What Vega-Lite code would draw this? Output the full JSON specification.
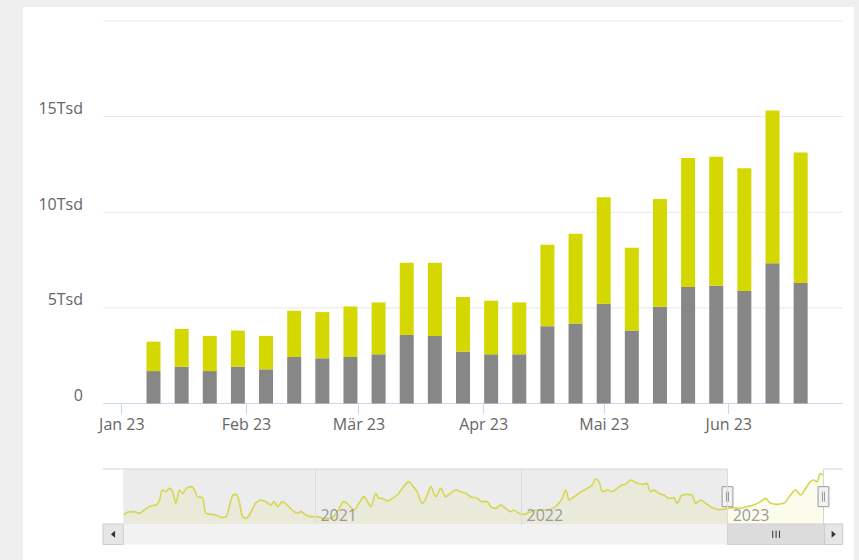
{
  "$schema": "https://vega.github.io/schema/vega-lite/v6.json",
  "width": 831,
  "height": 553,
  "autosize": {"type": "none"},
  "padding": {"left": 23, "top": 7, "right": 5, "bottom": 0},
  "background": "#efefef",
  "config": {
    "view": {"stroke": null, "fill": "#ffffff"},
    "font": "Open Sans",
    "axis": {"labelFont": "Open Sans", "labelFontSize": 16, "labelColor": "#666666", "grid": false}
  },
  "datasets": {
    "eins": [{}],
    "bars": [
      {"woche": "2023-01-09T00:00:00", "reihe": "Serie 1", "wert": 1696}, {"woche": "2023-01-09T00:00:00", "reihe": "Serie 2", "wert": 1539},
      {"woche": "2023-01-16T00:00:00", "reihe": "Serie 1", "wert": 1922}, {"woche": "2023-01-16T00:00:00", "reihe": "Serie 2", "wert": 1980},
      {"woche": "2023-01-23T00:00:00", "reihe": "Serie 1", "wert": 1696}, {"woche": "2023-01-23T00:00:00", "reihe": "Serie 2", "wert": 1839},
      {"woche": "2023-01-30T00:00:00", "reihe": "Serie 1", "wert": 1922}, {"woche": "2023-01-30T00:00:00", "reihe": "Serie 2", "wert": 1891},
      {"woche": "2023-02-06T00:00:00", "reihe": "Serie 1", "wert": 1786}, {"woche": "2023-02-06T00:00:00", "reihe": "Serie 2", "wert": 1749},
      {"woche": "2023-02-13T00:00:00", "reihe": "Serie 1", "wert": 2432}, {"woche": "2023-02-13T00:00:00", "reihe": "Serie 2", "wert": 2416},
      {"woche": "2023-02-20T00:00:00", "reihe": "Serie 1", "wert": 2363}, {"woche": "2023-02-20T00:00:00", "reihe": "Serie 2", "wert": 2416},
      {"woche": "2023-02-27T00:00:00", "reihe": "Serie 1", "wert": 2432}, {"woche": "2023-02-27T00:00:00", "reihe": "Serie 2", "wert": 2642},
      {"woche": "2023-03-06T00:00:00", "reihe": "Serie 1", "wert": 2573}, {"woche": "2023-03-06T00:00:00", "reihe": "Serie 2", "wert": 2711},
      {"woche": "2023-03-13T00:00:00", "reihe": "Serie 1", "wert": 3587}, {"woche": "2023-03-13T00:00:00", "reihe": "Serie 2", "wert": 3766},
      {"woche": "2023-03-20T00:00:00", "reihe": "Serie 1", "wert": 3535}, {"woche": "2023-03-20T00:00:00", "reihe": "Serie 2", "wert": 3818},
      {"woche": "2023-03-27T00:00:00", "reihe": "Serie 1", "wert": 2710}, {"woche": "2023-03-27T00:00:00", "reihe": "Serie 2", "wert": 2857},
      {"woche": "2023-04-03T00:00:00", "reihe": "Serie 1", "wert": 2573}, {"woche": "2023-04-03T00:00:00", "reihe": "Serie 2", "wert": 2800},
      {"woche": "2023-04-10T00:00:00", "reihe": "Serie 1", "wert": 2573}, {"woche": "2023-04-10T00:00:00", "reihe": "Serie 2", "wert": 2711},
      {"woche": "2023-04-17T00:00:00", "reihe": "Serie 1", "wert": 4044}, {"woche": "2023-04-17T00:00:00", "reihe": "Serie 2", "wert": 4254},
      {"woche": "2023-04-24T00:00:00", "reihe": "Serie 1", "wert": 4181}, {"woche": "2023-04-24T00:00:00", "reihe": "Serie 2", "wert": 4695},
      {"woche": "2023-05-01T00:00:00", "reihe": "Serie 1", "wert": 5215}, {"woche": "2023-05-01T00:00:00", "reihe": "Serie 2", "wert": 5568},
      {"woche": "2023-05-08T00:00:00", "reihe": "Serie 1", "wert": 3813}, {"woche": "2023-05-08T00:00:00", "reihe": "Serie 2", "wert": 4328},
      {"woche": "2023-05-15T00:00:00", "reihe": "Serie 1", "wert": 5058}, {"woche": "2023-05-15T00:00:00", "reihe": "Serie 2", "wert": 5635},
      {"woche": "2023-05-22T00:00:00", "reihe": "Serie 1", "wert": 6092}, {"woche": "2023-05-22T00:00:00", "reihe": "Serie 2", "wert": 6739},
      {"woche": "2023-05-29T00:00:00", "reihe": "Serie 1", "wert": 6161}, {"woche": "2023-05-29T00:00:00", "reihe": "Serie 2", "wert": 6738},
      {"woche": "2023-06-05T00:00:00", "reihe": "Serie 1", "wert": 5882}, {"woche": "2023-06-05T00:00:00", "reihe": "Serie 2", "wert": 6424},
      {"woche": "2023-06-12T00:00:00", "reihe": "Serie 1", "wert": 7332}, {"woche": "2023-06-12T00:00:00", "reihe": "Serie 2", "wert": 7983},
      {"woche": "2023-06-19T00:00:00", "reihe": "Serie 1", "wert": 6302}, {"woche": "2023-06-19T00:00:00", "reihe": "Serie 2", "wert": 6828}
    ],
    "raster": [{"v": 5000}, {"v": 10000}, {"v": 15000}, {"v": 20000}],
    "griffe": [{"tag": "2023-01-01T12:00:00"}, {"tag": "2023-06-20T10:00:00"}],
    "nav": [
      {"tag": "2020-01-29T00:00:00", "wert": 2700}, {"tag": "2020-02-04T00:00:00", "wert": 3500}, {"tag": "2020-02-16T00:00:00", "wert": 3700},
      {"tag": "2020-02-25T00:00:00", "wert": 3200}, {"tag": "2020-03-05T00:00:00", "wert": 4200}, {"tag": "2020-03-17T00:00:00", "wert": 5500},
      {"tag": "2020-03-26T00:00:00", "wert": 5700}, {"tag": "2020-03-31T00:00:00", "wert": 6700}, {"tag": "2020-04-06T00:00:00", "wert": 10200},
      {"tag": "2020-04-12T00:00:00", "wert": 9700}, {"tag": "2020-04-18T00:00:00", "wert": 10700}, {"tag": "2020-04-24T00:00:00", "wert": 9700},
      {"tag": "2020-04-30T00:00:00", "wert": 6200}, {"tag": "2020-05-06T00:00:00", "wert": 10200}, {"tag": "2020-05-12T00:00:00", "wert": 9200},
      {"tag": "2020-05-18T00:00:00", "wert": 10700}, {"tag": "2020-05-27T00:00:00", "wert": 11200}, {"tag": "2020-06-02T00:00:00", "wert": 10200},
      {"tag": "2020-06-07T00:00:00", "wert": 8200}, {"tag": "2020-06-16T00:00:00", "wert": 7900}, {"tag": "2020-06-22T00:00:00", "wert": 3200},
      {"tag": "2020-07-01T00:00:00", "wert": 2900}, {"tag": "2020-07-10T00:00:00", "wert": 2700}, {"tag": "2020-07-19T00:00:00", "wert": 2000},
      {"tag": "2020-07-28T00:00:00", "wert": 2200}, {"tag": "2020-08-03T00:00:00", "wert": 5700}, {"tag": "2020-08-09T00:00:00", "wert": 8700},
      {"tag": "2020-08-15T00:00:00", "wert": 8900}, {"tag": "2020-08-20T00:00:00", "wert": 6700}, {"tag": "2020-08-26T00:00:00", "wert": 2200},
      {"tag": "2020-09-01T00:00:00", "wert": 1700}, {"tag": "2020-09-10T00:00:00", "wert": 3700}, {"tag": "2020-09-18T00:00:00", "wert": 6200},
      {"tag": "2020-09-27T00:00:00", "wert": 7200}, {"tag": "2020-10-06T00:00:00", "wert": 6700}, {"tag": "2020-10-15T00:00:00", "wert": 5700},
      {"tag": "2020-10-21T00:00:00", "wert": 6700}, {"tag": "2020-10-27T00:00:00", "wert": 5200}, {"tag": "2020-11-04T00:00:00", "wert": 6700},
      {"tag": "2020-11-13T00:00:00", "wert": 5700}, {"tag": "2020-11-22T00:00:00", "wert": 4200}, {"tag": "2020-12-01T00:00:00", "wert": 3200},
      {"tag": "2020-12-07T00:00:00", "wert": 3700}, {"tag": "2020-12-16T00:00:00", "wert": 2700}, {"tag": "2020-12-25T00:00:00", "wert": 2200},
      {"tag": "2021-01-05T00:00:00", "wert": 2200}, {"tag": "2021-01-17T00:00:00", "wert": 1700}, {"tag": "2021-01-29T00:00:00", "wert": 1700},
      {"tag": "2021-02-10T00:00:00", "wert": 3700}, {"tag": "2021-02-21T00:00:00", "wert": 6700}, {"tag": "2021-03-02T00:00:00", "wert": 5700},
      {"tag": "2021-03-11T00:00:00", "wert": 4200}, {"tag": "2021-03-20T00:00:00", "wert": 6200}, {"tag": "2021-03-29T00:00:00", "wert": 8200},
      {"tag": "2021-04-04T00:00:00", "wert": 6700}, {"tag": "2021-04-10T00:00:00", "wert": 5200}, {"tag": "2021-04-19T00:00:00", "wert": 9200},
      {"tag": "2021-04-24T00:00:00", "wert": 7700}, {"tag": "2021-04-30T00:00:00", "wert": 7700}, {"tag": "2021-05-09T00:00:00", "wert": 6900},
      {"tag": "2021-05-18T00:00:00", "wert": 7700}, {"tag": "2021-05-27T00:00:00", "wert": 8700}, {"tag": "2021-06-07T00:00:00", "wert": 11200},
      {"tag": "2021-06-16T00:00:00", "wert": 12700}, {"tag": "2021-06-22T00:00:00", "wert": 11700}, {"tag": "2021-07-01T00:00:00", "wert": 9700},
      {"tag": "2021-07-10T00:00:00", "wert": 6200}, {"tag": "2021-07-19T00:00:00", "wert": 8700}, {"tag": "2021-07-25T00:00:00", "wert": 11200},
      {"tag": "2021-08-03T00:00:00", "wert": 8200}, {"tag": "2021-08-12T00:00:00", "wert": 10700}, {"tag": "2021-08-20T00:00:00", "wert": 8200},
      {"tag": "2021-08-29T00:00:00", "wert": 9200}, {"tag": "2021-09-07T00:00:00", "wert": 10200}, {"tag": "2021-09-16T00:00:00", "wert": 9700},
      {"tag": "2021-09-25T00:00:00", "wert": 9200}, {"tag": "2021-10-04T00:00:00", "wert": 8200}, {"tag": "2021-10-15T00:00:00", "wert": 7700},
      {"tag": "2021-10-24T00:00:00", "wert": 6700}, {"tag": "2021-11-02T00:00:00", "wert": 6700}, {"tag": "2021-11-08T00:00:00", "wert": 5300},
      {"tag": "2021-11-17T00:00:00", "wert": 4700}, {"tag": "2021-11-26T00:00:00", "wert": 5700}, {"tag": "2021-12-05T00:00:00", "wert": 4700},
      {"tag": "2021-12-13T00:00:00", "wert": 3700}, {"tag": "2021-12-19T00:00:00", "wert": 4200}, {"tag": "2021-12-28T00:00:00", "wert": 3200},
      {"tag": "2022-01-06T00:00:00", "wert": 2900}, {"tag": "2022-01-15T00:00:00", "wert": 3500}, {"tag": "2022-01-30T00:00:00", "wert": 4200},
      {"tag": "2022-02-16T00:00:00", "wert": 4200}, {"tag": "2022-03-06T00:00:00", "wert": 5700}, {"tag": "2022-03-15T00:00:00", "wert": 7700},
      {"tag": "2022-03-21T00:00:00", "wert": 10200}, {"tag": "2022-03-27T00:00:00", "wert": 7200}, {"tag": "2022-04-05T00:00:00", "wert": 8200},
      {"tag": "2022-04-13T00:00:00", "wert": 9200}, {"tag": "2022-04-28T00:00:00", "wert": 10700}, {"tag": "2022-05-07T00:00:00", "wert": 11700},
      {"tag": "2022-05-13T00:00:00", "wert": 13500}, {"tag": "2022-05-19T00:00:00", "wert": 12700}, {"tag": "2022-05-25T00:00:00", "wert": 9700},
      {"tag": "2022-06-03T00:00:00", "wert": 10200}, {"tag": "2022-06-11T00:00:00", "wert": 9700}, {"tag": "2022-06-20T00:00:00", "wert": 10700},
      {"tag": "2022-06-29T00:00:00", "wert": 11700}, {"tag": "2022-07-05T00:00:00", "wert": 11900}, {"tag": "2022-07-14T00:00:00", "wert": 13200},
      {"tag": "2022-07-26T00:00:00", "wert": 12200}, {"tag": "2022-08-06T00:00:00", "wert": 11900}, {"tag": "2022-08-12T00:00:00", "wert": 12200},
      {"tag": "2022-08-18T00:00:00", "wert": 9700}, {"tag": "2022-08-24T00:00:00", "wert": 10200}, {"tag": "2022-09-02T00:00:00", "wert": 9200},
      {"tag": "2022-09-11T00:00:00", "wert": 8700}, {"tag": "2022-09-20T00:00:00", "wert": 7700}, {"tag": "2022-09-29T00:00:00", "wert": 7900},
      {"tag": "2022-10-04T00:00:00", "wert": 6200}, {"tag": "2022-10-13T00:00:00", "wert": 8700}, {"tag": "2022-10-22T00:00:00", "wert": 8900},
      {"tag": "2022-10-31T00:00:00", "wert": 8700}, {"tag": "2022-11-06T00:00:00", "wert": 6200}, {"tag": "2022-11-15T00:00:00", "wert": 7200},
      {"tag": "2022-11-24T00:00:00", "wert": 6200}, {"tag": "2022-12-02T00:00:00", "wert": 5200}, {"tag": "2022-12-08T00:00:00", "wert": 4700},
      {"tag": "2022-12-18T00:00:00", "wert": 4300}, {"tag": "2023-01-03T00:00:00", "wert": 4700}, {"tag": "2023-01-13T00:00:00", "wert": 4900},
      {"tag": "2023-01-25T00:00:00", "wert": 4700}, {"tag": "2023-02-05T00:00:00", "wert": 5200}, {"tag": "2023-02-17T00:00:00", "wert": 5700},
      {"tag": "2023-03-01T00:00:00", "wert": 6700}, {"tag": "2023-03-10T00:00:00", "wert": 7700}, {"tag": "2023-03-19T00:00:00", "wert": 6200},
      {"tag": "2023-03-30T00:00:00", "wert": 5900}, {"tag": "2023-04-11T00:00:00", "wert": 6200}, {"tag": "2023-04-23T00:00:00", "wert": 8700},
      {"tag": "2023-05-02T00:00:00", "wert": 10200}, {"tag": "2023-05-11T00:00:00", "wert": 8700}, {"tag": "2023-05-20T00:00:00", "wert": 10700},
      {"tag": "2023-05-28T00:00:00", "wert": 12700}, {"tag": "2023-06-03T00:00:00", "wert": 13200}, {"tag": "2023-06-09T00:00:00", "wert": 12700},
      {"tag": "2023-06-15T00:00:00", "wert": 15200}, {"tag": "2023-06-19T00:00:00", "wert": 14700}
    ]
  },
  "layer": [
    {
      "data": {"name": "raster"},
      "mark": {"type": "rule", "color": "#e6e6e6", "strokeWidth": 1},
      "encoding": {
        "x": {"datum": {"year": 2022, "month": 12, "date": 28, "hours": 12}, "type": "temporal", "scale": {"domain": [{"year": 2022, "month": 12, "date": 8, "hours": 18, "minutes": 40}, {"year": 2023, "month": 7, "date": 1, "hours": 0, "minutes": 43}]}, "axis": null},
        "x2": {"datum": {"year": 2023, "month": 6, "date": 28, "hours": 6}},
        "y": {"field": "v", "type": "quantitative", "scale": {"domain": [-8183, 20732], "nice": false, "zero": false}, "axis": null}
      }
    },
    {
      "data": {"name": "eins"},
      "mark": {"type": "rule", "color": "#ccd6eb", "strokeWidth": 1},
      "encoding": {
        "x": {"datum": {"year": 2022, "month": 12, "date": 28, "hours": 12}, "type": "temporal", "scale": {"domain": [{"year": 2022, "month": 12, "date": 8, "hours": 18, "minutes": 40}, {"year": 2023, "month": 7, "date": 1, "hours": 0, "minutes": 43}]}, "axis": null},
        "x2": {"datum": {"year": 2023, "month": 6, "date": 28, "hours": 6}},
        "y": {"datum": 0, "type": "quantitative", "scale": {"domain": [-8183, 20732], "nice": false, "zero": false}, "axis": null}
      }
    },
    {
      "data": {"name": "bars"},
      "mark": {"type": "bar", "width": 14},
      "encoding": {
        "x": {
          "field": "woche", "type": "temporal",
          "scale": {"domain": [{"year": 2022, "month": 12, "date": 8, "hours": 18, "minutes": 40}, {"year": 2023, "month": 7, "date": 1, "hours": 0, "minutes": 43}]},
          "axis": {
            "orient": "bottom", "offset": -156.5, "domain": false, "tickSize": 10, "tickColor": "#ccd6eb", "labelPadding": 3, "title": null,
            "values": [{"year": 2023, "month": 1, "date": 1}, {"year": 2023, "month": 2, "date": 1}, {"year": 2023, "month": 3, "date": 1}, {"year": 2023, "month": 4, "date": 1}, {"year": 2023, "month": 5, "date": 1}, {"year": 2023, "month": 6, "date": 1}],
            "labelExpr": "['Jan','Feb','Mär','Apr','Mai','Jun','Jul','Aug','Sep','Okt','Nov','Dez'][month(datum.value)] + ' ' + timeFormat(datum.value, '%y')",
            "labelOverlap": false, "labelFlush": false, "labelBound": false
          }
        },
        "y": {
          "field": "wert", "type": "quantitative", "stack": "zero",
          "scale": {"domain": [-8183, 20732], "nice": false, "zero": false},
          "axis": {
            "orient": "left", "offset": -59.5, "domain": false, "ticks": false, "labelPadding": 0, "title": null,
            "values": [0, 5000, 10000, 15000],
            "labelExpr": "datum.value == 0 ? '0' : (datum.value / 1000) + 'Tsd'",
            "labelBaseline": "alphabetic", "labelOffset": -3, "labelAlign": "right",
            "labelOverlap": false, "labelFlush": false, "labelBound": false
          }
        },
        "color": {"field": "reihe", "type": "nominal", "scale": {"domain": ["Serie 1", "Serie 2"], "range": ["#878787", "#d5d700"]}, "legend": null},
        "order": {"field": "reihe", "sort": "ascending"}
      }
    },
    {
      "data": {"name": "eins"},
      "mark": {"type": "rect", "color": "#ececec"},
      "encoding": {
        "x": {"datum": {"year": 2020, "month": 1, "date": 27, "hours": 17}, "type": "temporal", "scale": {"domain": [{"year": 2019, "month": 8, "date": 3, "hours": 5}, {"year": 2023, "month": 8, "date": 13, "hours": 12}]}, "axis": null},
        "x2": {"datum": {"year": 2023, "month": 1, "date": 1, "hours": 12}},
        "y": {"datum": 0, "type": "quantitative", "scale": {"domain": [-10800, 155100], "nice": false, "zero": false}, "axis": null},
        "y2": {"datum": 16500}
      }
    },
    {
      "data": {"name": "nav"},
      "mark": {"type": "area", "color": "#d5d700", "opacity": 0.07, "interpolate": "monotone"},
      "encoding": {
        "x": {"field": "tag", "type": "temporal", "scale": {"domain": [{"year": 2019, "month": 8, "date": 3, "hours": 5}, {"year": 2023, "month": 8, "date": 13, "hours": 12}]}, "axis": null},
        "y": {"field": "wert", "type": "quantitative", "scale": {"domain": [-10800, 155100], "nice": false, "zero": false}, "axis": null},
        "y2": {"datum": 0}
      }
    },
    {
      "data": {"name": "nav"},
      "mark": {"type": "line", "color": "#d6d650", "strokeWidth": 1.6, "interpolate": "monotone"},
      "encoding": {
        "x": {
          "field": "tag", "type": "temporal",
          "scale": {"domain": [{"year": 2019, "month": 8, "date": 3, "hours": 5}, {"year": 2023, "month": 8, "date": 13, "hours": 12}]},
          "axis": {
            "orient": "bottom", "offset": -91, "domain": false, "tickSize": 55, "tickColor": "#dcdcdc", "zindex": 1, "title": null,
            "values": [{"year": 2021, "month": 1, "date": 1}, {"year": 2022, "month": 1, "date": 1}, {"year": 2023, "month": 1, "date": 1}],
            "labelExpr": "timeFormat(datum.value, '%Y')",
            "labelAlign": "left", "labelBaseline": "alphabetic", "labelPadding": -4, "labelOffset": 5,
            "labelColor": "#9a9a9a", "labelFontSize": 16,
            "labelOverlap": false, "labelFlush": false, "labelBound": false
          }
        },
        "y": {"field": "wert", "type": "quantitative", "scale": {"domain": [-10800, 155100], "nice": false, "zero": false}, "axis": null}
      }
    },
    {
      "data": {"name": "eins"},
      "mark": {"type": "rule", "color": "#d4d4d4", "strokeWidth": 1},
      "encoding": {
        "x": {"datum": {"year": 2019, "month": 12, "date": 22, "hours": 19}, "type": "temporal", "scale": {"domain": [{"year": 2019, "month": 8, "date": 3, "hours": 5}, {"year": 2023, "month": 8, "date": 13, "hours": 12}]}, "axis": null},
        "x2": {"datum": {"year": 2023, "month": 1, "date": 1, "hours": 12}},
        "y": {"datum": 16500, "type": "quantitative", "scale": {"domain": [-10800, 155100], "nice": false, "zero": false}, "axis": null}
      }
    },
    {
      "data": {"name": "eins"},
      "mark": {"type": "rule", "color": "#d4d4d4", "strokeWidth": 1},
      "encoding": {
        "x": {"datum": {"year": 2023, "month": 6, "date": 20, "hours": 10}, "type": "temporal", "scale": {"domain": [{"year": 2019, "month": 8, "date": 3, "hours": 5}, {"year": 2023, "month": 8, "date": 13, "hours": 12}]}, "axis": null},
        "x2": {"datum": {"year": 2023, "month": 7, "date": 24, "hours": 12}},
        "y": {"datum": 16500, "type": "quantitative", "scale": {"domain": [-10800, 155100], "nice": false, "zero": false}, "axis": null}
      }
    },
    {
      "data": {"name": "griffe"},
      "mark": {"type": "rule", "color": "#d4d4d4", "strokeWidth": 1},
      "encoding": {
        "x": {"field": "tag", "type": "temporal", "scale": {"domain": [{"year": 2019, "month": 8, "date": 3, "hours": 5}, {"year": 2023, "month": 8, "date": 13, "hours": 12}]}, "axis": null},
        "y": {"datum": 0, "type": "quantitative", "scale": {"domain": [-10800, 155100], "nice": false, "zero": false}, "axis": null},
        "y2": {"datum": 16500}
      }
    },
    {
      "data": {"name": "eins"},
      "mark": {"type": "rect", "color": "#f2f2f2"},
      "encoding": {
        "x": {"datum": {"year": 2020, "month": 1, "date": 27, "hours": 17}, "type": "temporal", "scale": {"domain": [{"year": 2019, "month": 8, "date": 3, "hours": 5}, {"year": 2023, "month": 8, "date": 13, "hours": 12}]}, "axis": null},
        "x2": {"datum": {"year": 2023, "month": 6, "date": 22, "hours": 15}},
        "y": {"datum": 0, "type": "quantitative", "scale": {"domain": [-10800, 155100], "nice": false, "zero": false}, "axis": null},
        "y2": {"datum": -6150}
      }
    },
    {
      "data": {"name": "eins"},
      "mark": {"type": "rect", "fill": "#dcdcdc", "stroke": "#d0d0d0", "strokeWidth": 1},
      "encoding": {
        "x": {"datum": {"year": 2023, "month": 1, "date": 1, "hours": 12}, "type": "temporal", "scale": {"domain": [{"year": 2019, "month": 8, "date": 3, "hours": 5}, {"year": 2023, "month": 8, "date": 13, "hours": 12}]}, "axis": null},
        "x2": {"datum": {"year": 2023, "month": 6, "date": 22, "hours": 15}},
        "y": {"datum": 0, "type": "quantitative", "scale": {"domain": [-10800, 155100], "nice": false, "zero": false}, "axis": null},
        "y2": {"datum": -6150}
      }
    },
    {
      "data": {"name": "eins"},
      "mark": {"type": "rect", "fill": "#e6e6e6", "stroke": "#cccccc", "strokeWidth": 1},
      "encoding": {
        "x": {"datum": {"year": 2019, "month": 12, "date": 22, "hours": 19}, "type": "temporal", "scale": {"domain": [{"year": 2019, "month": 8, "date": 3, "hours": 5}, {"year": 2023, "month": 8, "date": 13, "hours": 12}]}, "axis": null},
        "x2": {"datum": {"year": 2020, "month": 1, "date": 27, "hours": 17}},
        "y": {"datum": 0, "type": "quantitative", "scale": {"domain": [-10800, 155100], "nice": false, "zero": false}, "axis": null},
        "y2": {"datum": -6150}
      }
    },
    {
      "data": {"name": "eins"},
      "mark": {"type": "rect", "fill": "#e6e6e6", "stroke": "#cccccc", "strokeWidth": 1},
      "encoding": {
        "x": {"datum": {"year": 2023, "month": 6, "date": 22, "hours": 15}, "type": "temporal", "scale": {"domain": [{"year": 2019, "month": 8, "date": 3, "hours": 5}, {"year": 2023, "month": 8, "date": 13, "hours": 12}]}, "axis": null},
        "x2": {"datum": {"year": 2023, "month": 7, "date": 24, "hours": 12}},
        "y": {"datum": 0, "type": "quantitative", "scale": {"domain": [-10800, 155100], "nice": false, "zero": false}, "axis": null},
        "y2": {"datum": -6150}
      }
    },
    {
      "data": {"name": "eins"},
      "mark": {"type": "point", "shape": "M0.3,-0.5L-0.3,0L0.3,0.5Z", "size": 196, "filled": true, "color": "#333333", "opacity": 1},
      "encoding": {
        "x": {"datum": {"year": 2020, "month": 1, "date": 9, "hours": 12}, "type": "temporal", "scale": {"domain": [{"year": 2019, "month": 8, "date": 3, "hours": 5}, {"year": 2023, "month": 8, "date": 13, "hours": 12}]}, "axis": null},
        "y": {"datum": -3090, "type": "quantitative", "scale": {"domain": [-10800, 155100], "nice": false, "zero": false}, "axis": null}
      }
    },
    {
      "data": {"name": "eins"},
      "mark": {"type": "point", "shape": "M-0.3,-0.5L0.3,0L-0.3,0.5Z", "size": 196, "filled": true, "color": "#333333", "opacity": 1},
      "encoding": {
        "x": {"datum": {"year": 2023, "month": 7, "date": 8, "hours": 14}, "type": "temporal", "scale": {"domain": [{"year": 2019, "month": 8, "date": 3, "hours": 5}, {"year": 2023, "month": 8, "date": 13, "hours": 12}]}, "axis": null},
        "y": {"datum": -3090, "type": "quantitative", "scale": {"domain": [-10800, 155100], "nice": false, "zero": false}, "axis": null}
      }
    },
    {
      "data": {"name": "eins"},
      "mark": {"type": "point", "shape": "M-0.42,-0.45V0.45M0,-0.45V0.45M0.42,-0.45V0.45", "size": 256, "filled": false, "color": "#333333", "strokeWidth": 1, "opacity": 1},
      "encoding": {
        "x": {"datum": {"year": 2023, "month": 3, "date": 28, "hours": 14}, "type": "temporal", "scale": {"domain": [{"year": 2019, "month": 8, "date": 3, "hours": 5}, {"year": 2023, "month": 8, "date": 13, "hours": 12}]}, "axis": null},
        "y": {"datum": -3090, "type": "quantitative", "scale": {"domain": [-10800, 155100], "nice": false, "zero": false}, "axis": null}
      }
    },
    {
      "data": {"name": "griffe"},
      "mark": {"type": "point", "shape": "M-0.27,-0.5H0.27V0.5H-0.27Z", "size": 1600, "filled": false, "fill": "#f2f2f2", "fillOpacity": 1, "stroke": "#999999", "strokeWidth": 1, "opacity": 1},
      "encoding": {
        "x": {"field": "tag", "type": "temporal", "scale": {"domain": [{"year": 2019, "month": 8, "date": 3, "hours": 5}, {"year": 2023, "month": 8, "date": 13, "hours": 12}]}, "axis": null},
        "y": {"datum": 8190, "type": "quantitative", "scale": {"domain": [-10800, 155100], "nice": false, "zero": false}, "axis": null}
      }
    },
    {
      "data": {"name": "griffe"},
      "mark": {"type": "point", "shape": "M-0.05,-0.25V0.25M0.05,-0.25V0.25", "size": 1600, "filled": false, "stroke": "#999999", "strokeWidth": 1, "opacity": 1},
      "encoding": {
        "x": {"field": "tag", "type": "temporal", "scale": {"domain": [{"year": 2019, "month": 8, "date": 3, "hours": 5}, {"year": 2023, "month": 8, "date": 13, "hours": 12}]}, "axis": null},
        "y": {"datum": 8190, "type": "quantitative", "scale": {"domain": [-10800, 155100], "nice": false, "zero": false}, "axis": null}
      }
    }
  ],
  "resolve": {"scale": {"x": "independent", "y": "independent"}, "axis": {"x": "independent", "y": "independent"}}
}
